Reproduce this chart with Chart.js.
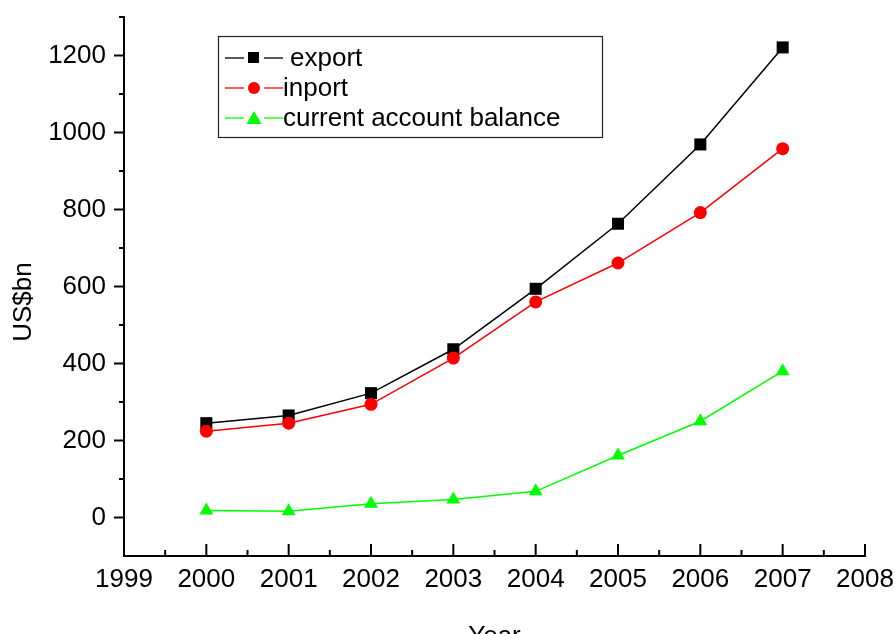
<!DOCTYPE html>
<html>
<head>
<meta charset="utf-8">
<script src="https://cdn.jsdelivr.net/npm/chart.js@4.4.1/dist/chart.umd.min.js"></script>
<style>
  html, body { margin: 0; padding: 0; background: #fff; }
  #wrap { width: 895px; height: 634px; }
</style>
</head>
<body>
<div id="wrap"><canvas id="myChart" width="895" height="634"></canvas></div>
<script>
// data
const years = [2000, 2001, 2002, 2003, 2004, 2005, 2006, 2007]
const exportVals = [245, 265, 323, 437, 594, 763, 969, 1221]
const importVals = [224, 245, 294, 414, 560, 661, 792, 958]
const balanceVals = [18, 16, 36, 47, 68, 161, 250, 380]
const xTicks = [1999, 2000, 2001, 2002, 2003, 2004, 2005, 2006, 2007, 2008]
const yTicks = [0, 200, 400, 600, 800, 1000, 1200]
const legendNames = ['export', 'inport', 'current account balance']

const FONT = 'Liberation Sans, Arial, sans-serif'
Chart.defaults.font.family = FONT
Chart.defaults.color = '#000'

function pts(vals) {
  return vals.map((v, i) => ({ x: years[i], y: v }))
}

// tick marks, axis titles and legend box drawn by hand
const extras = {
  id: 'extras',
  afterDraw(chart) {
    const ctx = chart.ctx
    const xs = chart.scales.x
    const ys = chart.scales.y
    const area = chart.chartArea
    ctx.save()
    ctx.strokeStyle = '#000'
    ctx.lineWidth = 2

    // x ticks point up into the plot
    xTicks.forEach(v => {
      let px = xs.getPixelForValue(v)
      ctx.beginPath(); ctx.moveTo(px, area.bottom); ctx.lineTo(px, area.bottom - 12); ctx.stroke()
      if (v < 2008) {
        px = xs.getPixelForValue(v + 0.5)
        ctx.beginPath(); ctx.moveTo(px, area.bottom); ctx.lineTo(px, area.bottom - 6); ctx.stroke()
      }
    })
    // y ticks point out to the left
    yTicks.forEach(v => {
      const py = ys.getPixelForValue(v)
      ctx.beginPath(); ctx.moveTo(area.left, py); ctx.lineTo(area.left - 10, py); ctx.stroke()
    })
    for (let v = 100; v <= 1300; v += 200) {
      const py = ys.getPixelForValue(v)
      ctx.beginPath(); ctx.moveTo(area.left, py); ctx.lineTo(area.left - 5, py); ctx.stroke()
    }

    // axis titles
    ctx.fillStyle = '#000'
    ctx.font = '26px ' + FONT
    ctx.textAlign = 'center'
    ctx.textBaseline = 'alphabetic'
    ctx.fillText('Year', (area.left + area.right) / 2, 644)
    ctx.save()
    ctx.translate(31, 302)
    ctx.rotate(-Math.PI / 2)
    ctx.fillText('US$bn', 0, 0)
    ctx.restore()

    // legend
    ctx.lineWidth = 1.2
    ctx.strokeStyle = '#222'
    ctx.strokeRect(218.5, 36.5, 384, 101)
    const rowY = [58, 88, 118]
    chart.data.datasets.forEach((ds, i) => {
      const y = rowY[i]
      ctx.strokeStyle = ds.borderColor
      ctx.lineWidth = 1.3
      ctx.beginPath(); ctx.moveTo(225, y); ctx.lineTo(244, y); ctx.stroke()
      ctx.beginPath(); ctx.moveTo(264, y); ctx.lineTo(283, y); ctx.stroke()
      ctx.fillStyle = ds.borderColor
      if (ds.pointStyle == 'rect') {
        ctx.fillRect(248, y - 6, 11, 11)
      } else if (ds.pointStyle == 'circle') {
        ctx.beginPath(); ctx.arc(254, y, 6, 0, Math.PI * 2); ctx.fill()
      } else {
        ctx.beginPath(); ctx.moveTo(254, y - 7); ctx.lineTo(261.5, y + 6); ctx.lineTo(246.5, y + 6); ctx.closePath(); ctx.fill()
      }
      ctx.fillStyle = '#000'
      ctx.textAlign = 'left'
      ctx.textBaseline = 'middle'
      ctx.font = '26px ' + FONT
      ctx.fillText(legendNames[i], i == 0 ? 290 : 283, y + 1)
    })
    ctx.restore()
  }
}

const data = {
  datasets: [{
    label: legendNames[0],
    data: pts(exportVals),
    borderColor: '#000000',
    backgroundColor: '#000000',
    borderWidth: 1.5,
    pointStyle: 'rect',
    pointRadius: 8.5,
    pointBorderWidth: 0,
    order: 2
  }, {
    label: legendNames[1],
    data: pts(importVals),
    borderColor: '#ff0000',
    backgroundColor: '#ff0000',
    borderWidth: 1.5,
    pointStyle: 'circle',
    pointRadius: 6.5,
    pointBorderWidth: 0,
    order: 1
  }, {
    label: legendNames[2],
    data: pts(balanceVals),
    borderColor: '#00ff00',
    backgroundColor: '#00ff00',
    borderWidth: 1.5,
    pointStyle: 'triangle',
    pointRadius: 8,
    pointBorderWidth: 0,
    order: 3
  }]
}

const config = {
  type: 'line',
  data: data,
  plugins: [extras],
  options: {
    responsive: false,
    animation: false,
    layout: { padding: { left: 0, top: 17, right: 30, bottom: 0 } },
    plugins: { legend: { display: false }, tooltip: { enabled: false } },
    scales: {
      x: {
        type: 'linear',
        min: 1999,
        max: 2008,
        afterBuildTicks: s => { s.ticks = xTicks.map(v => ({ value: v })) },
        afterFit: s => { s.height = 78; s.paddingLeft = 0; s.paddingRight = 0 },
        ticks: { font: { size: 26 }, padding: 8, maxRotation: 0, callback: v => String(v) },
        grid: { display: false, drawTicks: false },
        border: { display: true, color: '#000', width: 2 }
      },
      y: {
        min: -100,
        max: 1300,
        afterBuildTicks: s => { s.ticks = yTicks.map(v => ({ value: v })) },
        afterFit: s => { s.width = 124; s.paddingTop = 0; s.paddingBottom = 0 },
        ticks: { font: { size: 26 }, padding: 18, callback: v => String(v) },
        grid: { display: false, drawTicks: false },
        border: { display: true, color: '#000', width: 2 }
      }
    }
  }
}

const myChart = new Chart(document.getElementById('myChart'), config)
</script>
</body>
</html>
